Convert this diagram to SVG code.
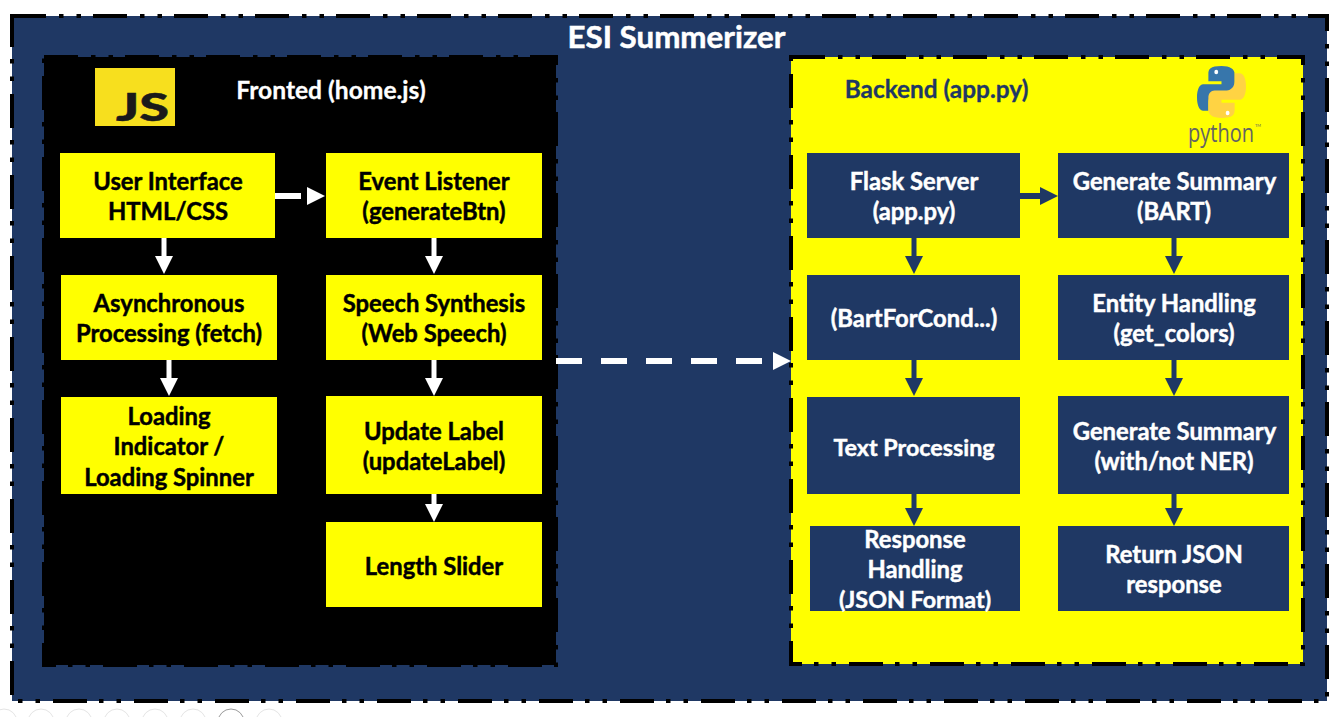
<svg xmlns="http://www.w3.org/2000/svg" width="1340" height="717" viewBox="0 0 1340 717">
<style>
text{font-family:"Lato","Liberation Sans",sans-serif;font-weight:700;text-anchor:middle}
.bd{stroke:#000;stroke-width:4;stroke-dasharray:34 13 4.5 13 4.5 12}
.y{fill:#ff0}.n{fill:#1f3864}
.t{font-size:23.8px;stroke-width:.45px}
.ty{fill:#000;stroke:#000}.tw{fill:#fff;stroke:#fff}
.w{stroke:#fff;stroke-width:5;fill:none}
.w6{stroke:#fff;stroke-width:6;fill:none}
.b{stroke:#1f3864;stroke-width:5;fill:none}
.b6{stroke:#1f3864;stroke-width:6;fill:none}
.hw{fill:#fff}.hb{fill:#1f3864}
</style>
<rect width="1340" height="717" fill="#fff"/>
<g id="toolbar" fill="none" stroke="#e4e4e4" stroke-width="1">
<circle cx="4" cy="722" r="13"/><circle cx="41" cy="722" r="13"/><circle cx="79" cy="722" r="13"/><circle cx="117" cy="722" r="13"/><circle cx="155" cy="722" r="13"/><circle cx="193" cy="722" r="13"/><circle cx="231" cy="722" r="13" stroke="#999"/><circle cx="269" cy="722" r="13"/>
</g>
<g id="outer"><rect class="bd n" x="12" y="16" width="1315" height="685"/>
<text class="tw" x="676.5" y="48" style="font-size:31.3px;stroke-width:.5px">ESI Summerizer</text></g>
<g id="frontend"><rect class="bd" fill="#000" x="44" y="57" width="512" height="608"/>
<text class="tw" x="331" y="99" style="font-size:24.6px;stroke-width:.3px">Fronted (home.js)</text></g>
<g id="backend"><rect class="bd y" x="791" y="57" width="512" height="607"/>
<text x="936.5" y="98" style="font-size:24.4px;fill:#1f3864;stroke:#1f3864;stroke-width:.3px">Backend (app.py)</text></g>
<g id="js-logo"><rect x="95" y="68" width="80" height="58" fill="#f7df1e"/>
<text x="142.5" y="121" textLength="53" lengthAdjust="spacingAndGlyphs" style="font-size:37px;font-weight:900;fill:#1a1a1a;stroke:#1a1a1a;stroke-width:.5px">JS</text></g>
<g id="python-logo">
<g transform="translate(1221.5 0) scale(.875 1.02) translate(-1221 -1.3)">
<path fill="#3776ab" d="M1221 66c-13 0-15 3-15 8v7h15v3h-21c-4 0-7 5-7 13 0 8 3 13 7 13h6v-8c0-5 4-9 9-9h14c4 0 7-3 7-7V74c0-5-5-8-15-8z"/>
<path fill="#ffd343" d="M1221 117c13 0 15-3 15-8v-7h-15v-3h21c4 0 7-5 7-13 0-8-3-13-7-13h-6v8c0 5-4 9-9 9h-14c-4 0-7 3-7 7v12c0 5 5 8 15 8z"/>
<circle cx="1215" cy="72" r="2.2" fill="#fff"/><circle cx="1228" cy="112" r="2.2" fill="#fff"/>
</g>
<text transform="translate(1221 142) scale(.77 1)" style="font-size:26px;font-weight:400;fill:#646464;font-family:'Open Sans',sans-serif">python</text>
<text x="1258" y="127" style="font-size:4px;font-weight:400;fill:#646464">TM</text>
</g>
<g id="n-ui"><rect class="y" x="60" y="153" width="215" height="85"/><text class="t ty" x="168" y="190">User Interface</text><text class="t ty" x="168" y="220">HTML/CSS</text></g>
<g id="n-async"><rect class="y" x="61" y="275" width="216" height="85"/><text class="t ty" x="169" y="312">Asynchronous</text><text class="t ty" x="169" y="342">Processing (fetch)</text></g>
<g id="n-loading"><rect class="y" x="61" y="397" width="216" height="97"/><text class="t ty" x="169" y="425">Loading</text><text class="t ty" x="169" y="455">Indicator /</text><text class="t ty" x="169" y="486">Loading Spinner</text></g>
<g id="n-event"><rect class="y" x="326" y="153" width="216" height="85"/><text class="t ty" x="434" y="190">Event Listener</text><text class="t ty" x="434" y="220">(generateBtn)</text></g>
<g id="n-speech"><rect class="y" x="326" y="275" width="216" height="85"/><text class="t ty" x="434" y="312">Speech Synthesis</text><text class="t ty" x="434" y="342">(Web Speech)</text></g>
<g id="n-update"><rect class="y" x="326" y="396" width="216" height="98"/><text class="t ty" x="434" y="440">Update Label</text><text class="t ty" x="434" y="470">(updateLabel)</text></g>
<g id="n-slider"><rect class="y" x="326" y="522" width="216" height="85"/><text class="t ty" x="434" y="575">Length Slider</text></g>
<g id="n-flask"><rect class="n" x="807" y="153" width="213" height="85"/><text class="t tw" x="914" y="190">Flask Server</text><text class="t tw" x="914" y="220">(app.py)</text></g>
<g id="n-bart"><rect class="n" x="807" y="275" width="213" height="85"/><text class="t tw" x="914" y="327">(BartForCond...)</text></g>
<g id="n-text"><rect class="n" x="807" y="397" width="213" height="97"/><text class="t tw" x="914" y="456" style="font-size:23.3px">Text Processing</text></g>
<g id="n-response"><rect class="n" x="810" y="526" width="210" height="85"/><text class="t tw" x="915" y="548">Response</text><text class="t tw" x="915" y="578">Handling</text><text class="t tw" x="915" y="608" style="font-size:23.3px">(JSON Format)</text></g>
<g id="n-gen"><rect class="n" x="1058" y="153" width="231" height="85"/><text class="t tw" x="1174.5" y="190">Generate Summary</text><text class="t tw" x="1174" y="220">(BART)</text></g>
<g id="n-entity"><rect class="n" x="1058" y="275" width="231" height="85"/><text class="t tw" x="1174" y="312">Entity Handling</text><text class="t tw" x="1174" y="342">(get_colors)</text></g>
<g id="n-gen2"><rect class="n" x="1058" y="396" width="231" height="98"/><text class="t tw" x="1174.5" y="440">Generate Summary</text><text class="t tw" x="1174" y="470">(with/not NER)</text></g>
<g id="n-return"><rect class="n" x="1058" y="526" width="231" height="85"/><text class="t tw" x="1174" y="563">Return JSON</text><text class="t tw" x="1174" y="593">response</text></g>
<g id="connectors">
<path class="w6" d="M275 196h26"/><path class="hw" d="M307 187l18 9-18 9z"/>
<path class="w6" d="M556 361H773" stroke-dasharray="26 19"/><path class="hw" d="M773 352l18 9-18 9z"/>
<path class="w" d="M164 238v20"/><path class="hw" d="M155 256h18l-9 18z"/>
<path class="w" d="M169 360v20"/><path class="hw" d="M160 378h18l-9 18z"/>
<path class="w" d="M434 238v20"/><path class="hw" d="M425 256h18l-9 18z"/>
<path class="w" d="M434 360v20"/><path class="hw" d="M425 378h18l-9 18z"/>
<path class="w" d="M434 494v12"/><path class="hw" d="M425 504h18l-9 18z"/>
<path class="b6" d="M1020 196h22"/><path class="hb" d="M1040 187l18 9-18 9z"/>
<path class="b" d="M914 238v20"/><path class="hb" d="M905 256h18l-9 18z"/>
<path class="b" d="M914 360v20"/><path class="hb" d="M905 378h18l-9 18z"/>
<path class="b" d="M914 494v16"/><path class="hb" d="M905 508h18l-9 18z"/>
<path class="b" d="M1174 238v20"/><path class="hb" d="M1165 256h18l-9 18z"/>
<path class="b" d="M1174 360v20"/><path class="hb" d="M1165 378h18l-9 18z"/>
<path class="b" d="M1174 494v16"/><path class="hb" d="M1165 508h18l-9 18z"/>
</g>
</svg>
